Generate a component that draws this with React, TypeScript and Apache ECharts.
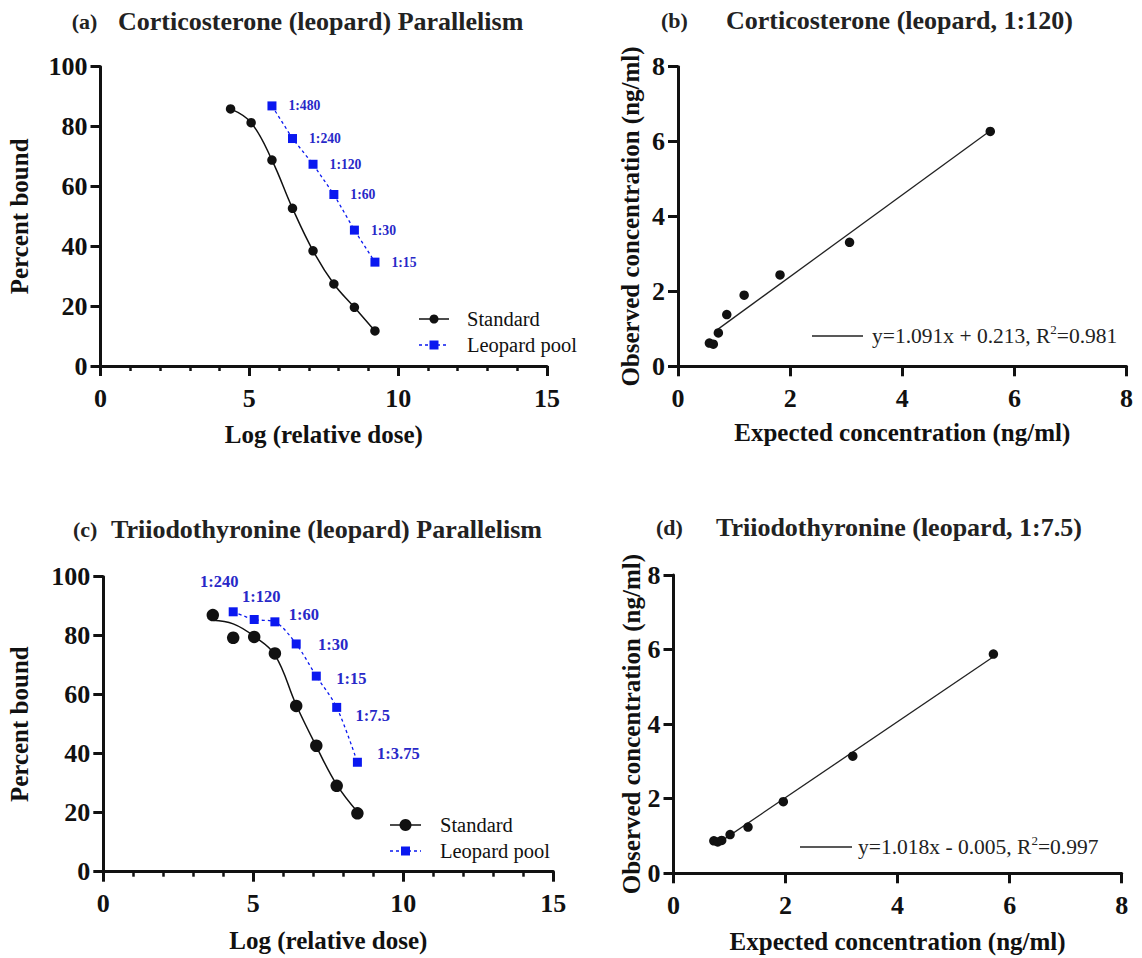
import React, { useEffect, useRef } from "react";
import * as echarts from "echarts";

// ---------- data ----------
// (a) Corticosterone parallelism
const doseA = [4.37, 5.06, 5.76, 6.45, 7.14, 7.84, 8.53, 9.22];
const stdBoundA = [85.9, 81.3, 68.8, 52.7, 38.5, 27.4, 19.6, 11.7];
const poolDoseA = [5.76, 6.45, 7.14, 7.84, 8.53, 9.22];
const poolBoundA = [86.9, 76.0, 67.4, 57.3, 45.4, 34.7];
const poolLabelsA = ["1:480", "1:240", "1:120", "1:60", "1:30", "1:15"];

// (b) Corticosterone accuracy
const expectedB = [0.56, 0.63, 0.72, 0.87, 1.18, 1.82, 3.06, 5.57];
const observedB = [0.62, 0.59, 0.89, 1.38, 1.9, 2.44, 3.31, 6.27];
const slopeB = 1.091;
const interceptB = 0.213;
const r2B = "0.981";
const fitRangeB = [0.69, 5.57];

// (c) Triiodothyronine parallelism
const doseC = [3.65, 4.33, 5.03, 5.72, 6.43, 7.1, 7.78, 8.47];
const stdBoundC = [87.0, 79.3, 79.6, 74.0, 56.2, 42.7, 29.1, 19.8];
const stdFitC = [85.2, 84.0, 79.8, 73.5, 56.5, 42.5, 29.5, 20.3];
const poolDoseC = [4.33, 5.03, 5.72, 6.43, 7.1, 7.78, 8.47];
const poolBoundC = [88.1, 85.5, 84.7, 77.2, 66.3, 55.7, 37.1];
const poolLabelsC = ["1:240", "1:120", "1:60", "1:30", "1:15", "1:7.5", "1:3.75"];

// (d) Triiodothyronine accuracy
const expectedD = [0.72, 0.79, 0.86, 1.01, 1.33, 1.96, 3.2, 5.71];
const observedD = [0.87, 0.84, 0.88, 1.04, 1.24, 1.92, 3.14, 5.88];
const slopeD = 1.018;
const interceptD = -0.005;
const r2D = "0.997";
const fitRangeD = [0.8, 5.71];

// ---------- styling ----------
const FONT = '"Liberation Serif", "Times New Roman", serif';
const INK = "#111";
const BLUE = "#0a18f0";
const LABEL_BLUE = "#2828c8";
const labelOffsetsC = [[-14, -30], [7, -23], [29, -7], [37, 1], [35, 2], [36, 8], [41, -9]];

const tickFont = { fontFamily: FONT, fontWeight: "bold" as const, fontSize: 26, color: INK };
const nameFont = { fontFamily: FONT, fontWeight: "bold" as const, fontSize: 25, color: INK };

function xAxisDef(gridIndex: number, max: number, interval: number, name: string, nameGap: number, minor: boolean) {
  return {
    type: "value",
    gridIndex,
    min: 0,
    max,
    interval,
    name,
    nameLocation: "middle",
    nameGap,
    nameTextStyle: { ...nameFont },
    axisLine: { show: true, onZero: false, lineStyle: { color: INK, width: 3 } },
    axisTick: { show: true, length: 10, lineStyle: { color: INK, width: 3 } },
    minorTick: { show: minor, splitNumber: 5, length: 5, lineStyle: { color: INK, width: 2.5 } },
    splitLine: { show: false },
    minorSplitLine: { show: false },
    axisLabel: { ...tickFont, margin: 19 },
  };
}

function yAxisDef(gridIndex: number, max: number, interval: number, name: string, nameGap: number) {
  return {
    type: "value",
    gridIndex,
    min: 0,
    max,
    interval,
    name,
    nameLocation: "middle",
    nameGap,
    nameTextStyle: { ...nameFont },
    axisLine: { show: true, onZero: false, lineStyle: { color: INK, width: 3 } },
    axisTick: { show: true, length: 10, lineStyle: { color: INK, width: 3 } },
    splitLine: { show: false },
    axisLabel: { ...tickFont, margin: 13 },
  };
}

function titleTexts(tag: string, tagX: number, main: string, mainX: number, y: number) {
  return [
    { type: "text", x: tagX, y, style: { text: tag, fontFamily: FONT, fontWeight: "bold", fontSize: 22, fill: "#222", verticalAlign: "middle" } },
    { type: "text", x: mainX, y, style: { text: main, fontFamily: FONT, fontWeight: "bold", fontSize: 26, fill: "#222", verticalAlign: "middle" } },
  ];
}

function seriesLegend(x1: number, x2: number, textX: number, y1: number, y2: number, r: number) {
  const mid = (x1 + x2) / 2;
  return [
    { type: "line", shape: { x1, y1, x2, y2: y1 }, style: { stroke: INK, lineWidth: 1.5 } },
    { type: "circle", shape: { cx: mid, cy: y1, r }, style: { fill: INK } },
    { type: "text", x: textX, y: y1, style: { text: "Standard", fontFamily: FONT, fontSize: 20.5, fill: INK, verticalAlign: "middle" } },
    { type: "line", shape: { x1, y1: y2, x2, y2 }, style: { stroke: BLUE, lineWidth: 1.3, lineDash: [3, 3] } },
    { type: "rect", shape: { x: mid - 4.5, y: y2 - 4.5, width: 9, height: 9 }, style: { fill: BLUE } },
    { type: "text", x: textX, y: y2, style: { text: "Leopard pool", fontFamily: FONT, fontSize: 20.5, fill: INK, verticalAlign: "middle" } },
  ];
}

function fitLegend(x1: number, x2: number, textX: number, y: number, eq: string, r2: string) {
  return [
    { type: "line", shape: { x1, y1: y, x2, y2: y }, style: { stroke: "#222", lineWidth: 1.3 } },
    {
      type: "text",
      x: textX,
      y,
      style: {
        text: `{a|${eq}, R}{s|2}{a|=${r2}}`,
        verticalAlign: "middle",
        rich: {
          a: { fontFamily: FONT, fontSize: 21.5, fill: "#222", color: "#222" },
          s: { fontFamily: FONT, fontSize: 13, fill: "#222", color: "#222", padding: [0, 0, 14, 0] },
        },
      },
    },
  ];
}

export default function App() {
  const ref = useRef<HTMLDivElement>(null);

  useEffect(() => {
    if (!ref.current) return;
    const chart = echarts.init(ref.current, null, { renderer: "svg" });

    const grids = [
      { left: 100.5, top: 66.7, width: 446.5, height: 299.3 },
      { left: 678, top: 66.7, width: 448.5, height: 299.6 },
      { left: 103.3, top: 576.7, width: 450, height: 295 },
      { left: 673.5, top: 575, width: 448.2, height: 298.3 },
    ];

    const pointLabel = {
      show: true,
      fontFamily: FONT,
      fontWeight: "bold",
      color: LABEL_BLUE,
    };
    const dot = { color: INK, opacity: 1 };

    const option: any = {
      animation: false,
      backgroundColor: "#fff",
      grid: grids.map((g) => ({ ...g, containLabel: false })),
      xAxis: [
        xAxisDef(0, 15, 5, "Log (relative dose)", 56, true),
        xAxisDef(1, 8, 2, "Expected concentration (ng/ml)", 54, false),
        xAxisDef(2, 15, 5, "Log (relative dose)", 56.5, true),
        xAxisDef(3, 8, 2, "Expected concentration (ng/ml)", 56, false),
      ],
      yAxis: [
        yAxisDef(0, 100, 20, "Percent bound", 69),
        yAxisDef(1, 8, 2, "Observed concentration (ng/ml)", 35),
        yAxisDef(2, 100, 20, "Percent bound", 71),
        yAxisDef(3, 8, 2, "Observed concentration (ng/ml)", 28),
      ],
      series: [
        // (a)
        {
          type: "line",
          name: "Standard",
          xAxisIndex: 0,
          yAxisIndex: 0,
          data: doseA.map((x, i) => [x, stdBoundA[i]]),
          smooth: 0.4,
          symbol: "circle",
          symbolSize: 9.5,
          itemStyle: dot,
          lineStyle: { color: INK, width: 1.5 },
          z: 3,
        },
        {
          type: "line",
          name: "Leopard pool",
          xAxisIndex: 0,
          yAxisIndex: 0,
          data: poolDoseA.map((x, i) => [x, poolBoundA[i]]),
          symbol: "rect",
          symbolSize: 9,
          itemStyle: { color: BLUE, opacity: 1 },
          lineStyle: { color: BLUE, width: 1.3, type: [3, 3] },
          label: { ...pointLabel, position: "right", distance: 12, fontSize: 13.7, formatter: (p: any) => poolLabelsA[p.dataIndex] },
          z: 4,
        },
        // (b)
        {
          type: "line",
          xAxisIndex: 1,
          yAxisIndex: 1,
          data: fitRangeB.map((x) => [x, slopeB * x + interceptB]),
          symbol: "none",
          lineStyle: { color: "#222", width: 1.3 },
        },
        {
          type: "scatter",
          xAxisIndex: 1,
          yAxisIndex: 1,
          data: expectedB.map((x, i) => [x, observedB[i]]),
          symbol: "circle",
          symbolSize: 9.5,
          itemStyle: dot,
          z: 4,
        },
        // (c)
        {
          type: "line",
          xAxisIndex: 2,
          yAxisIndex: 2,
          data: doseC.map((x, i) => [x, stdFitC[i]]),
          smooth: 0.4,
          symbol: "none",
          lineStyle: { color: INK, width: 1.5 },
        },
        {
          type: "scatter",
          name: "Standard",
          xAxisIndex: 2,
          yAxisIndex: 2,
          data: doseC.map((x, i) => [x, stdBoundC[i]]),
          symbol: "circle",
          symbolSize: 12.5,
          itemStyle: dot,
          z: 4,
        },
        {
          type: "line",
          name: "Leopard pool",
          xAxisIndex: 2,
          yAxisIndex: 2,
          data: poolDoseC.map((x, i) => ({ value: [x, poolBoundC[i]], label: { offset: labelOffsetsC[i] } })),
          smooth: 0.3,
          symbol: "rect",
          symbolSize: 9,
          itemStyle: { color: BLUE, opacity: 1 },
          lineStyle: { color: BLUE, width: 1.3, type: [3, 3] },
          label: { ...pointLabel, position: "inside", fontSize: 16.5, formatter: (p: any) => poolLabelsC[p.dataIndex] },
          z: 5,
        },
        // (d)
        {
          type: "line",
          xAxisIndex: 3,
          yAxisIndex: 3,
          data: fitRangeD.map((x) => [x, slopeD * x + interceptD]),
          symbol: "none",
          lineStyle: { color: "#222", width: 1.3 },
        },
        {
          type: "scatter",
          xAxisIndex: 3,
          yAxisIndex: 3,
          data: expectedD.map((x, i) => [x, observedD[i]]),
          symbol: "circle",
          symbolSize: 9.5,
          itemStyle: dot,
          z: 4,
        },
      ],
      graphic: [
        ...titleTexts("(a)", 71.7, "Corticosterone (leopard) Parallelism", 118, 21),
        ...titleTexts("(b)", 661, "Corticosterone (leopard, 1:120)", 726, 20),
        ...titleTexts("(c)", 73, "Triiodothyronine (leopard) Parallelism", 111, 529),
        ...titleTexts("(d)", 656, "Triiodothyronine (leopard, 1:7.5)", 716, 527),
        ...seriesLegend(419, 449, 467, 319, 345, 4.5),
        ...seriesLegend(390, 421, 440, 825, 851, 6),
        ...fitLegend(812, 863, 872, 336, `y=${slopeB}x + ${interceptB}`, r2B),
        ...fitLegend(800, 852, 858, 847, `y=${slopeD}x - ${Math.abs(interceptD)}`, r2D),
      ],
    };

    chart.setOption(option);
    return () => chart.dispose();
  }, []);

  return (
    <div
      ref={ref}
      style={{ position: "absolute", left: 0, top: 0, width: 1142, height: 958, background: "#fff" }}
    />
  );
}
